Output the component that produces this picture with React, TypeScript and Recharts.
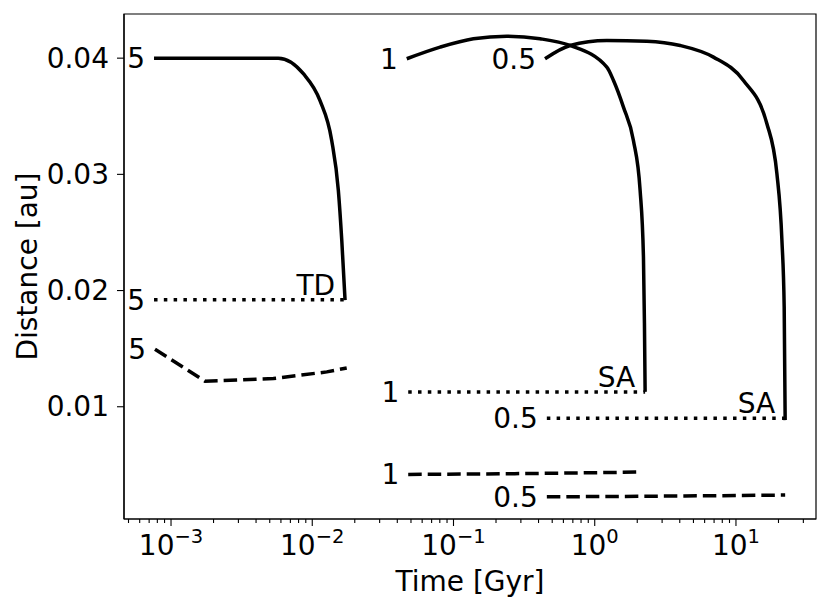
import { LineChart, Line, XAxis, YAxis, ReferenceDot, ReferenceArea } from "recharts";

// orbital distance [au] vs time [Gyr] for 5, 1 and 0.5 Msun hosts
const solid5 = [
  { t: 7.58e-4, d: 0.04 },
  { t: 2.0e-3, d: 0.04 },
  { t: 5.75e-3, d: 0.04 },
  { t: 8.65e-3, d: 0.03866 },
  { t: 0.01133, d: 0.03636 },
  { t: 0.01373, d: 0.03292 },
  { t: 0.0153, d: 0.02862 },
  { t: 0.01618, d: 0.02433 },
  { t: 0.01707, d: 0.01917 },
];
const dotted5 = [
  { t: 7.58e-4, d: 0.0192 },
  { t: 0.01707, d: 0.0192 },
];
const dashed5 = [
  { t: 7.7e-4, d: 0.01495 },
  { t: 1.74e-3, d: 0.0122 },
  { t: 5.31e-3, d: 0.01243 },
  { t: 0.01268, d: 0.013 },
  { t: 0.01754, d: 0.01334 },
];
const solid1 = [
  { t: 0.04667, d: 0.03995 },
  { t: 0.0804, d: 0.04095 },
  { t: 0.1383, d: 0.04167 },
  { t: 0.2384, d: 0.04189 },
  { t: 0.41, d: 0.04167 },
  { t: 0.669, d: 0.04109 },
  { t: 1.218, d: 0.03923 },
  { t: 1.358, d: 0.03808 },
  { t: 1.597, d: 0.03579 },
  { t: 1.879, d: 0.03292 },
  { t: 2.096, d: 0.02862 },
  { t: 2.213, d: 0.02289 },
  { t: 2.249, d: 0.01719 },
  { t: 2.274, d: 0.01128 },
];
const dotted1 = [
  { t: 0.0478, d: 0.01128 },
  { t: 2.274, d: 0.01128 },
];
const dashed1 = [
  { t: 0.0478, d: 0.00418 },
  { t: 0.321, d: 0.00425 },
  { t: 2.1, d: 0.00438 },
];
const solid05 = [
  { t: 0.4446, d: 0.03995 },
  { t: 0.669, d: 0.04109 },
  { t: 1.218, d: 0.04152 },
  { t: 2.338, d: 0.04146 },
  { t: 4.03, d: 0.04109 },
  { t: 6.93, d: 0.04009 },
  { t: 11.3, d: 0.03808 },
  { t: 16.56, d: 0.03436 },
  { t: 19.49, d: 0.03006 },
  { t: 21.15, d: 0.02433 },
  { t: 21.95, d: 0.01859 },
  { t: 22.3, d: 0.00885 },
];
const dotted05 = [
  { t: 0.458, d: 0.009 },
  { t: 22.3, d: 0.009 },
];
const dashed05 = [
  { t: 0.458, d: 0.00225 },
  { t: 3.16, d: 0.00231 },
  { t: 22.3, d: 0.0024 },
];

const startNotes = [
  { t: 7.58e-4, d: 0.04, text: "5" },
  { t: 7.58e-4, d: 0.0192, text: "5" },
  { t: 7.7e-4, d: 0.01495, text: "5" },
  { t: 0.04667, d: 0.03995, text: "1" },
  { t: 0.0478, d: 0.01128, text: "1" },
  { t: 0.0478, d: 0.00418, text: "1" },
  { t: 0.4446, d: 0.03995, text: "0.5" },
  { t: 0.458, d: 0.009, text: "0.5" },
  { t: 0.458, d: 0.00225, text: "0.5" },
];
const endNotes = [
  { t: 0.01707, d: 0.0192, text: "TD" },
  { t: 2.274, d: 0.01128, text: "SA" },
  { t: 22.3, d: 0.009, text: "SA" },
];

const xMajor = [1e-3, 1e-2, 1e-1, 1, 10];
const xMajorExp = ["\u22123", "\u22122", "\u22121", "0", "1"];
const xMinor = [
  5e-4, 6e-4, 7e-4, 8e-4, 9e-4,
  2e-3, 3e-3, 4e-3, 5e-3, 6e-3, 7e-3, 8e-3, 9e-3,
  0.02, 0.03, 0.04, 0.05, 0.06, 0.07, 0.08, 0.09,
  0.2, 0.3, 0.4, 0.5, 0.6, 0.7, 0.8, 0.9,
  2, 3, 4, 5, 6, 7, 8, 9,
  20, 30,
];
const yTicks = [0.01, 0.02, 0.03, 0.04];
const yLabels = ["0.01", "0.02", "0.03", "0.04"];

const X_MIN = 4.646e-4;
const X_MAX = 36.87;
const Y_MIN = 0.00034;
const Y_MAX = 0.0438;
const FONT = "'DejaVu Sans', sans-serif";
const FS = 28;
const LW = 3.5;

function XTick(props: any) {
  const { x, y, payload } = props;
  const i = xMajor.findIndex((v) => Math.abs(v - payload.value) / v < 1e-6);
  const major = i >= 0;
  return (
    <g>
      <line x1={x} x2={x} y1={y} y2={y + (major ? 7 : 4)} stroke="#000" strokeWidth={1.1} />
      {major && (
        <text x={x} y={y + 36} textAnchor="middle" fontFamily={FONT} fontSize={FS} fill="#000">
          <tspan>10</tspan>
          <tspan dy={-12} fontSize={19.5}>{xMajorExp[i]}</tspan>
        </text>
      )}
    </g>
  );
}

function YTick(props: any) {
  const { x, y, payload } = props;
  const i = yTicks.indexOf(payload.value);
  return (
    <g>
      <line x1={x - 7} x2={x} y1={y} y2={y} stroke="#000" strokeWidth={1.1} />
      <text x={x - 15} y={y} textAnchor="end" dominantBaseline="central" fontFamily={FONT} fontSize={FS} fill="#000">
        {yLabels[i]}
      </text>
    </g>
  );
}

function YTitle(props: any) {
  const vb = props.viewBox;
  const cy = vb.y + vb.height / 2;
  return (
    <text
      x={27}
      y={cy}
      transform={`rotate(-90 27 ${cy})`}
      textAnchor="middle"
      dominantBaseline="central"
      fontFamily={FONT}
      fontSize={FS}
      fill="#000"
    >
      Distance [au]
    </text>
  );
}

export default function App() {
  const solid = { stroke: "#000", strokeWidth: LW, dot: false, isAnimationActive: false };
  return (
    <div style={{ position: "absolute", left: 0, top: 0, width: 830, height: 609, background: "#fff" }}>
      <LineChart width={830} height={609} margin={{ top: 14, right: 14, bottom: 0, left: 0 }}>
        <XAxis
          dataKey="t"
          type="number"
          scale="log"
          domain={[X_MIN, X_MAX]}
          allowDataOverflow
          ticks={[...xMajor, ...xMinor]}
          interval={0}
          tickSize={0}
          tickMargin={0}
          tickLine={false}
          tick={<XTick />}
          height={90}
          axisLine={{ stroke: "#000", strokeWidth: 1.2 }}
          label={{ value: "Time [Gyr]", position: "insideBottom", offset: 18, fontFamily: FONT, fontSize: FS, fill: "#000" }}
        />
        <YAxis
          type="number"
          domain={[Y_MIN, Y_MAX]}
          allowDataOverflow
          ticks={yTicks}
          interval={0}
          tickSize={0}
          tickMargin={0}
          tickLine={false}
          tick={<YTick />}
          width={124}
          axisLine={{ stroke: "#000", strokeWidth: 1.2 }}
          label={{ content: (p: any) => <YTitle {...p} /> }}
        />
        <ReferenceArea x1={X_MIN} x2={X_MAX} y1={Y_MIN} y2={Y_MAX} fill="none" stroke="#000" strokeWidth={1.2} ifOverflow="visible" />

        <Line data={solid5} dataKey="d" type="monotone" {...solid} />
        <Line data={dotted5} dataKey="d" type="linear" {...solid} strokeDasharray="3.5 6.3" />
        <Line data={dashed5} dataKey="d" type="linear" {...solid} strokeDasharray="13.5 6" />
        <Line data={solid1} dataKey="d" type="monotone" {...solid} />
        <Line data={dotted1} dataKey="d" type="linear" {...solid} strokeDasharray="3.5 6.3" />
        <Line data={dashed1} dataKey="d" type="monotone" {...solid} strokeDasharray="13.5 6" />
        <Line data={solid05} dataKey="d" type="monotone" {...solid} />
        <Line data={dotted05} dataKey="d" type="linear" {...solid} strokeDasharray="3.5 6.3" />
        <Line data={dashed05} dataKey="d" type="monotone" {...solid} strokeDasharray="13.5 6" />

        {startNotes.map((n, i) => (
          <ReferenceDot
            key={"s" + i}
            x={n.t}
            y={n.d}
            r={0}
            fill="none"
            stroke="none"
            ifOverflow="visible"
            label={{ value: n.text, position: "left", offset: 9, fontFamily: FONT, fontSize: FS, fill: "#000" }}
          />
        ))}
        {endNotes.map((n, i) => (
          <ReferenceDot
            key={"e" + i}
            x={n.t}
            y={n.d}
            r={0}
            fill="none"
            stroke="none"
            ifOverflow="visible"
            label={(p: any) => (
              <text x={p.viewBox.x - 10} y={p.viewBox.y - 5} textAnchor="end" fontFamily={FONT} fontSize={FS} fill="#000">
                {n.text}
              </text>
            )}
          />
        ))}
      </LineChart>
    </div>
  );
}
